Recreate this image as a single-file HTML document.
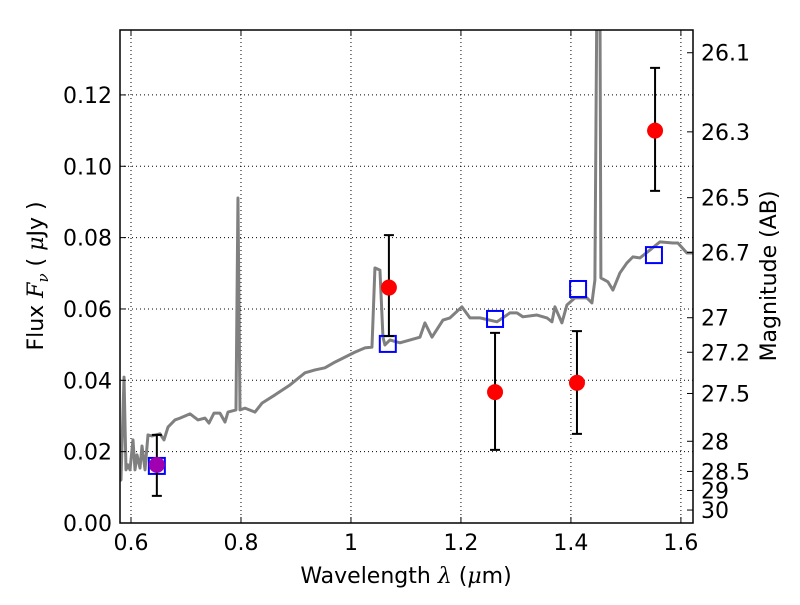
<!DOCTYPE html>
<html><head><meta charset="utf-8"><style>
body{margin:0;background:#fff}
svg{font-family:"DejaVu Sans","Liberation Sans",sans-serif}
</style></head><body>
<svg id="c" width="800" height="600" xmlns="http://www.w3.org/2000/svg"></svg>
<script>
const specLam=[0.5800,0.5818,0.5873,0.5909,0.5945,0.5982,0.6036,0.6073,0.6109,0.6164,0.6200,0.6255,0.6309,0.6382,0.6527,0.6600,0.6673,0.6800,0.6891,0.7073,0.7218,0.7345,0.7418,0.7509,0.7618,0.7709,0.7764,0.7909,0.7945,0.7982,0.8073,0.8255,0.8382,0.8618,0.8891,0.9164,0.9345,0.9527,0.9709,0.9891,1.0073,1.0255,1.0382,1.0436,1.0527,1.0582,1.0618,1.0709,1.0891,1.1255,1.1345,1.1473,1.1673,1.1800,1.2018,1.2164,1.2345,1.2655,1.2891,1.3018,1.3127,1.3382,1.3564,1.3655,1.3709,1.3836,1.3927,1.4073,1.4291,1.4382,1.4436,1.4473,1.4527,1.4545,1.4673,1.4764,1.4891,1.5018,1.5127,1.5255,1.5436,1.5618,1.5855,1.5945,1.6109,1.6218];
const specF=[0.0118,0.0121,0.0409,0.0149,0.0163,0.0149,0.0233,0.0149,0.0191,0.0154,0.0216,0.0149,0.0247,0.0244,0.0250,0.0233,0.0269,0.0289,0.0294,0.0306,0.0289,0.0294,0.0280,0.0308,0.0308,0.0283,0.0311,0.0317,0.0911,0.0317,0.0322,0.0311,0.0336,0.0359,0.0387,0.0421,0.0429,0.0435,0.0451,0.0465,0.0479,0.0491,0.0493,0.0715,0.0709,0.0521,0.0499,0.0513,0.0505,0.0521,0.0561,0.0521,0.0569,0.0575,0.0606,0.0575,0.0575,0.0564,0.0589,0.0589,0.0578,0.0583,0.0575,0.0564,0.0606,0.0561,0.0611,0.0631,0.0631,0.0617,0.0681,0.1500,0.1500,0.0687,0.0676,0.0653,0.0701,0.0729,0.0746,0.0743,0.0765,0.0788,0.0785,0.0785,0.0757,0.0757];
const obsLam=[0.647,1.069,1.262,1.411,1.553];
const obsF=[0.0163,0.0660,0.0367,0.0393,0.1100];
const obsHi=[0.0247,0.0807,0.0533,0.0538,0.1276];
const obsLo=[0.0076,0.0524,0.0205,0.0250,0.0931];
const obsColor=['#a000b0','#ff0000','#ff0000','#ff0000','#ff0000'];
const modLam=[0.647,1.067,1.262,1.413,1.551];
const modF=[0.0160,0.0502,0.0572,0.0656,0.0751];
const xTicks=[0.6,0.8,1.0,1.2,1.4,1.6];
const xTickLabels=['0.6','0.8','1','1.2','1.4','1.6'];
const yTicks=[0,0.02,0.04,0.06,0.08,0.10,0.12];
const yTickLabels=['0.00','0.02','0.04','0.06','0.08','0.10','0.12'];
const magTicks=[26.1,26.3,26.5,26.7,27,27.2,27.5,28,28.5,29,30];
const magLabels=['26.1','26.3','26.5','26.7','27','27.2','27.5','28','28.5','29','30'];

const L=120,R=693,T=30,B=523,xmin=0.58,xmax=1.622,ymin=0,ymax=0.1382;
const X=v=>L+(v-xmin)/(xmax-xmin)*(R-L);
const Y=v=>B-(v-ymin)/(ymax-ymin)*(B-T);
const svg=document.getElementById('c');
const NS='http://www.w3.org/2000/svg';
function mk(tag,at,parent){const e=document.createElementNS(NS,tag);for(const k in at)e.setAttribute(k,at[k]);(parent||svg).appendChild(e);return e;}
const defs=mk('defs',{});const cp=mk('clipPath',{id:'cl'},defs);mk('rect',{x:L,y:T,width:R-L,height:B-T},cp);

xTicks.forEach(t=>{const g=mk('line',{x1:X(t),x2:X(t),y1:T,y2:B,stroke:'#000','stroke-width':1,'stroke-dasharray':'1,3'});

});
yTicks.forEach(t=>{const g=mk('line',{x1:L,x2:R,y1:Y(t),y2:Y(t),stroke:'#000','stroke-width':1,'stroke-dasharray':'1,3'});

});

const sp=mk('polyline',{points:specLam.map((l,i)=>X(l)+','+Y(specF[i])).join(' '),fill:'none',stroke:'#808080','stroke-width':3,'stroke-linejoin':'round','clip-path':'url(#cl)'});



modLam.forEach((l,i)=>{const s=mk('rect',{x:X(l)-8,y:Y(modF[i])-8,width:16,height:16,fill:'none',stroke:'#0000ff','stroke-width':2});

});

obsLam.forEach((l,i)=>{const x=X(l);
const e=mk('path',{d:`M${x},${Y(obsHi[i])}V${Y(obsLo[i])}M${x-5},${Y(obsHi[i])}h10M${x-5},${Y(obsLo[i])}h10`,stroke:'#000','stroke-width':2,fill:'none'});


const c=mk('circle',{cx:x,cy:Y(obsF[i]),r:8,fill:obsColor[i]});

});

const fr=mk('rect',{x:L,y:T,width:R-L,height:B-T,fill:'none',stroke:'#000','stroke-width':1.5});



xTicks.forEach((t,i)=>{const x=X(t);
mk('line',{x1:x,x2:x,y1:B,y2:B-6,stroke:'#000'});mk('line',{x1:x,x2:x,y1:T,y2:T+6,stroke:'#000'});
const tx=mk('text',{x:x,y:B+27,'font-size':22,'text-anchor':'middle'});tx.textContent=xTickLabels[i];

});
yTicks.forEach((t,i)=>{const y=Y(t);
mk('line',{x1:L,x2:L+6,y1:y,y2:y,stroke:'#000'});
const tx=mk('text',{x:L-8,y:y+8,'font-size':22,'text-anchor':'end'});tx.textContent=yTickLabels[i];

});
magTicks.forEach((m,i)=>{const y=Y(Math.pow(10,(23.9-m)/2.5));
mk('line',{x1:R-6,x2:R,y1:y,y2:y,stroke:'#000'});
const tx=mk('text',{x:R+8,y:y+8,'font-size':22});tx.textContent=magLabels[i];

});
</script>
<svg width="800" height="600" style="position:absolute;left:0;top:0" xmlns="http://www.w3.org/2000/svg">
<text x="406" y="583" font-size="22" text-anchor="middle" font-family="DejaVu Sans, sans-serif">Wavelength  <tspan font-style="italic" font-family="DejaVu Serif, serif">λ</tspan> (<tspan font-style="italic" font-family="DejaVu Serif, serif">μ</tspan>m)</text>
<text transform="translate(43,276) rotate(-90)" font-size="22" text-anchor="middle" font-family="DejaVu Sans, sans-serif">Flux  <tspan font-style="italic" font-family="DejaVu Serif, serif">F</tspan><tspan font-style="italic" font-size="15" dy="5" font-family="DejaVu Serif, serif">ν</tspan><tspan dy="-5">  ( </tspan><tspan font-style="italic" font-family="DejaVu Serif, serif">μ</tspan>Jy )</text>
<text transform="translate(776,276) rotate(-90)" font-size="22" text-anchor="middle" font-family="DejaVu Sans, sans-serif">Magnitude (AB)</text>
</svg>
</body></html>
